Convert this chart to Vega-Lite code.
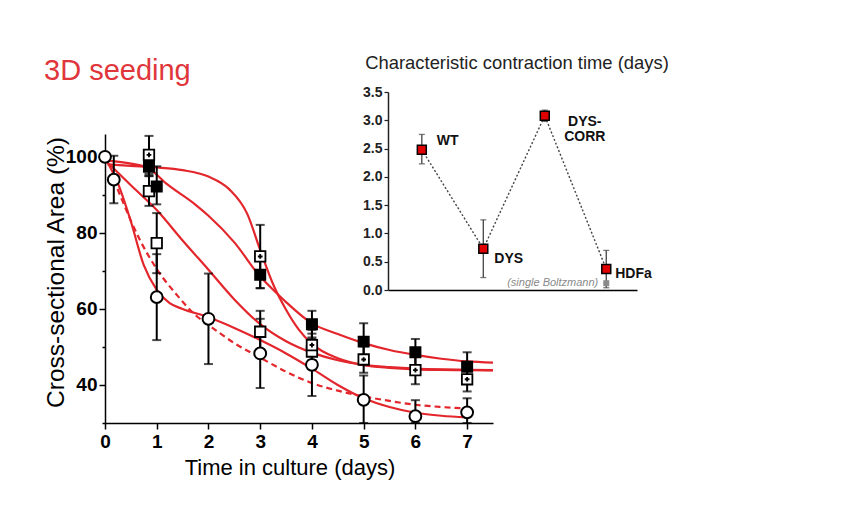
{
  "$schema": "https://vega.github.io/schema/vega-lite/v6.json",
  "width": 388,
  "height": 289,
  "autosize": "none",
  "padding": {"left": 105, "top": 134, "right": 348, "bottom": 82},
  "background": "white",
  "config": {"view": {"stroke": null}, "font": "Liberation Sans"},
  "title": {"text": "3D seeding", "anchor": "start", "frame": "group", "orient": "top", "color": "#e0363b", "fontSize": 29, "fontWeight": "normal", "font": "Liberation Sans", "baseline": "alphabetic", "offset": 0, "dx": -61, "dy": 56},
  "datasets": {
    "curves": [
      {"c": "A", "day": 0.05, "v": 98}, {"c": "A", "day": 0.5, "v": 97.6}, {"c": "A", "day": 1, "v": 97.2}, {"c": "A", "day": 1.5, "v": 96.5}, {"c": "A", "day": 2, "v": 94.8}, {"c": "A", "day": 2.4, "v": 91.5}, {"c": "A", "day": 2.75, "v": 85}, {"c": "A", "day": 3, "v": 75.5}, {"c": "A", "day": 3.25, "v": 66.5}, {"c": "A", "day": 3.5, "v": 59.8}, {"c": "A", "day": 3.75, "v": 54.5}, {"c": "A", "day": 4, "v": 50.8}, {"c": "A", "day": 4.5, "v": 47}, {"c": "A", "day": 5, "v": 45.2}, {"c": "A", "day": 5.5, "v": 44.5}, {"c": "A", "day": 6, "v": 44.1}, {"c": "A", "day": 6.5, "v": 43.95}, {"c": "A", "day": 7, "v": 43.9}, {"c": "A", "day": 7.5, "v": 43.8},
      {"c": "B", "day": 0.05, "v": 99}, {"c": "B", "day": 0.5, "v": 98.2}, {"c": "B", "day": 0.84, "v": 97}, {"c": "B", "day": 1.2, "v": 92.8}, {"c": "B", "day": 1.74, "v": 87.5}, {"c": "B", "day": 2, "v": 84.5}, {"c": "B", "day": 2.5, "v": 77.5}, {"c": "B", "day": 3, "v": 68.5}, {"c": "B", "day": 3.33, "v": 64}, {"c": "B", "day": 3.5, "v": 61.8}, {"c": "B", "day": 4, "v": 56.2}, {"c": "B", "day": 4.5, "v": 53.4}, {"c": "B", "day": 5, "v": 51}, {"c": "B", "day": 5.5, "v": 49.2}, {"c": "B", "day": 6, "v": 47.9}, {"c": "B", "day": 6.5, "v": 46.9}, {"c": "B", "day": 7, "v": 46.2}, {"c": "B", "day": 7.5, "v": 45.9},
      {"c": "C", "day": 0.05, "v": 98.5}, {"c": "C", "day": 0.5, "v": 92.5}, {"c": "C", "day": 1, "v": 86}, {"c": "C", "day": 1.5, "v": 78}, {"c": "C", "day": 2, "v": 70.3}, {"c": "C", "day": 2.5, "v": 62.5}, {"c": "C", "day": 3, "v": 56}, {"c": "C", "day": 3.5, "v": 51.5}, {"c": "C", "day": 4, "v": 48.5}, {"c": "C", "day": 4.5, "v": 46.5}, {"c": "C", "day": 5, "v": 45.3}, {"c": "C", "day": 5.5, "v": 44.7}, {"c": "C", "day": 6, "v": 44.3}, {"c": "C", "day": 6.5, "v": 44.1}, {"c": "C", "day": 7, "v": 44}, {"c": "C", "day": 7.5, "v": 43.9},
      {"c": "D", "day": 0.05, "v": 98.5}, {"c": "D", "day": 0.25, "v": 93}, {"c": "D", "day": 0.5, "v": 83}, {"c": "D", "day": 0.75, "v": 71.5}, {"c": "D", "day": 1, "v": 65}, {"c": "D", "day": 1.25, "v": 61.5}, {"c": "D", "day": 1.5, "v": 60}, {"c": "D", "day": 2, "v": 57.8}, {"c": "D", "day": 2.5, "v": 55}, {"c": "D", "day": 3, "v": 51.8}, {"c": "D", "day": 3.5, "v": 48.3}, {"c": "D", "day": 4, "v": 44.3}, {"c": "D", "day": 4.5, "v": 40}, {"c": "D", "day": 5, "v": 36.5}, {"c": "D", "day": 5.5, "v": 34.2}, {"c": "D", "day": 6, "v": 32.7}, {"c": "D", "day": 6.5, "v": 31.9}, {"c": "D", "day": 7, "v": 31.5},
      {"c": "E", "day": 0.17, "v": 94}, {"c": "E", "day": 0.35, "v": 88}, {"c": "E", "day": 0.68, "v": 78}, {"c": "E", "day": 1, "v": 70.5}, {"c": "E", "day": 1.4, "v": 63.5}, {"c": "E", "day": 1.78, "v": 58}, {"c": "E", "day": 2, "v": 55.8}, {"c": "E", "day": 2.5, "v": 51}, {"c": "E", "day": 3, "v": 47.2}, {"c": "E", "day": 3.5, "v": 43.5}, {"c": "E", "day": 4, "v": 40.5}, {"c": "E", "day": 4.5, "v": 38.5}, {"c": "E", "day": 5, "v": 37}, {"c": "E", "day": 5.5, "v": 35.8}, {"c": "E", "day": 6, "v": 34.8}, {"c": "E", "day": 6.5, "v": 34.2}, {"c": "E", "day": 7, "v": 33.8}
    ],
    "pts": [
      {"g": "HDFa", "day": 0, "v": 100, "lo": 100, "hi": 100},
      {"g": "HDFa", "day": 0.17, "v": 94, "lo": 87.8, "hi": 100.3},
      {"g": "HDFa", "day": 1, "v": 63.1, "lo": 51.8, "hi": 74.4},
      {"g": "HDFa", "day": 2, "v": 57.4, "lo": 45.5, "hi": 69.3},
      {"g": "HDFa", "day": 3, "v": 48.3, "lo": 39.2, "hi": 57.4},
      {"g": "HDFa", "day": 4, "v": 45.3, "lo": 37.1, "hi": 53.5},
      {"g": "HDFa", "day": 5, "v": 36.1, "lo": 30, "hi": 42.5},
      {"g": "HDFa", "day": 6, "v": 31.8, "lo": 30, "hi": 36},
      {"g": "HDFa", "day": 7, "v": 32.8, "lo": 30, "hi": 36.5},
      {"g": "WT", "day": 0.85, "v": 97.4, "lo": 95, "hi": 99.8},
      {"g": "WT", "day": 1, "v": 92.2, "lo": 87.5, "hi": 97.5},
      {"g": "WT", "day": 3, "v": 69, "lo": 65.4, "hi": 72.6},
      {"g": "WT", "day": 4, "v": 56, "lo": 52.5, "hi": 59.5},
      {"g": "WT", "day": 5, "v": 51.4, "lo": 46.6, "hi": 56.2},
      {"g": "WT", "day": 6, "v": 48.6, "lo": 45.1, "hi": 52.1},
      {"g": "WT", "day": 7, "v": 44.8, "lo": 41, "hi": 48.6},
      {"g": "DYS-CORR", "day": 0.85, "v": 100.5, "lo": 95.5, "hi": 105.5},
      {"g": "DYS-CORR", "day": 3, "v": 73.8, "lo": 65.5, "hi": 82.1},
      {"g": "DYS-CORR", "day": 4, "v": 50.5, "lo": 46.5, "hi": 54.5},
      {"g": "DYS-CORR", "day": 5, "v": 46.7, "lo": 43.2, "hi": 50.2},
      {"g": "DYS-CORR", "day": 6, "v": 43.9, "lo": 40.2, "hi": 47.6},
      {"g": "DYS-CORR", "day": 7, "v": 41.5, "lo": 38.3, "hi": 44.7},
      {"g": "DYS", "day": 0.85, "v": 91, "lo": 87.1, "hi": 94.9},
      {"g": "DYS", "day": 1, "v": 77.3, "lo": 69.4, "hi": 85.2},
      {"g": "DYS", "day": 3, "v": 54, "lo": 48.5, "hi": 59.5},
      {"g": "DYS", "day": 4, "v": 48.8, "lo": 45.5, "hi": 52.1}
    ],
    "tau": [
      {"group": "WT", "pos": 1, "tau": 2.48, "lo": 2.23, "hi": 2.75},
      {"group": "DYS", "pos": 2, "tau": 0.73, "lo": 0.22, "hi": 1.24},
      {"group": "DYS-CORR", "pos": 3, "tau": 3.08, "lo": 2.98, "hi": 3.18},
      {"group": "HDFa", "pos": 4, "tau": 0.37, "lo": 0.04, "hi": 0.7}
    ],
    "single": [
      {"group": "HDFa", "pos": 4, "tau": 0.12, "note": "(single  Boltzmann)"}
    ]
  },
  "layer": [
    {
      "layer": [
        {
          "data": {"name": "curves"},
          "transform": [{"filter": "datum.c !== 'E'"}],
          "mark": {"type": "line", "color": "#e3262c", "strokeWidth": 2.2, "interpolate": "monotone"},
          "encoding": {
            "x": {"field": "day", "type": "quantitative", "title": "Time in culture (days)", "scale": {"domain": [0, 7.5], "nice": false, "zero": false},
              "axis": {"values": [0, 0.5, 1, 1.5, 2, 2.5, 3, 3.5, 4, 4.5, 5, 5.5, 6, 6.5, 7, 7.5],
                "labelExpr": "datum.value % 1 === 0 ? datum.label : ''",
                "tickSize": {"condition": {"test": "datum.value % 1 !== 0", "value": 3}, "value": 6},
                "tickWidth": 1.5, "tickColor": "black", "domainColor": "black", "domainWidth": 1.5,
                "labelFontSize": 19, "labelFontWeight": "bold", "labelColor": "black", "labelPadding": 3, "labelFlush": false, "labelOverlap": false,
                "titleFontSize": 22, "titleFontWeight": "normal", "titleColor": "black", "titleX": 184.5, "titleY": 44, "titleBaseline": "middle", "titleAlign": "center", "grid": false}},
            "y": {"field": "v", "type": "quantitative", "title": "Cross-sectional Area (%)", "scale": {"domain": [30, 106], "nice": false, "zero": false},
              "axis": {"values": [30, 40, 50, 60, 70, 80, 90, 100],
                "labelExpr": "datum.value % 20 === 0 ? datum.label : ''",
                "tickSize": {"condition": {"test": "datum.value % 20 !== 0", "value": 3}, "value": 6},
                "tickWidth": 1.5, "tickColor": "black", "domainColor": "black", "domainWidth": 1.5,
                "labelFontSize": 19, "labelFontWeight": "bold", "labelColor": "black", "labelPadding": 2, "labelOverlap": false, "labelFlush": false,
                "titleFontSize": 24.5, "titleFontWeight": "normal", "titleColor": "black", "titleX": -49, "titleY": 138, "titleBaseline": "middle", "titleAlign": "center", "grid": false}},
            "detail": {"field": "c"}
          }
        },
        {
          "data": {"name": "curves"},
          "transform": [{"filter": "datum.c === 'E'"}],
          "mark": {"type": "line", "color": "#e3262c", "strokeWidth": 2.2, "strokeDash": [6, 4], "interpolate": "monotone"},
          "encoding": {"x": {"field": "day", "type": "quantitative", "title": "Time in culture (days)"}, "y": {"field": "v", "type": "quantitative", "title": "Cross-sectional Area (%)"}}
        },
        {
          "data": {"name": "pts"},
          "transform": [{"filter": "datum.hi > datum.lo"}],
          "mark": {"type": "errorbar", "ticks": true, "thickness": 2, "size": 9, "color": "black"},
          "encoding": {"x": {"field": "day", "type": "quantitative", "title": "Time in culture (days)"}, "y": {"field": "lo", "type": "quantitative", "title": "Cross-sectional Area (%)"}, "y2": {"field": "hi"}}
        },
        {
          "data": {"name": "pts"},
          "transform": [{"filter": "datum.g === 'HDFa'"}],
          "mark": {"type": "point", "shape": "circle", "filled": true, "fill": "white", "stroke": "black", "strokeWidth": 2, "size": 140, "opacity": 1},
          "encoding": {"x": {"field": "day", "type": "quantitative", "title": "Time in culture (days)"}, "y": {"field": "v", "type": "quantitative", "title": "Cross-sectional Area (%)"}}
        },
        {
          "data": {"name": "pts"},
          "transform": [{"filter": "datum.g === 'DYS'"}],
          "mark": {"type": "point", "shape": "square", "filled": true, "fill": "white", "stroke": "black", "strokeWidth": 1.8, "size": 110, "opacity": 1},
          "encoding": {"x": {"field": "day", "type": "quantitative", "title": "Time in culture (days)"}, "y": {"field": "v", "type": "quantitative", "title": "Cross-sectional Area (%)"}}
        },
        {
          "data": {"name": "pts"},
          "transform": [{"filter": "datum.g === 'DYS-CORR'"}],
          "mark": {"type": "point", "shape": "square", "filled": true, "fill": "white", "stroke": "black", "strokeWidth": 1.8, "size": 110, "opacity": 1},
          "encoding": {"x": {"field": "day", "type": "quantitative", "title": "Time in culture (days)"}, "y": {"field": "v", "type": "quantitative", "title": "Cross-sectional Area (%)"}}
        },
        {
          "data": {"name": "pts"},
          "transform": [{"filter": "datum.g === 'DYS-CORR'"}],
          "mark": {"type": "point", "shape": "cross", "filled": true, "fill": "black", "strokeWidth": 0, "size": 22, "opacity": 1},
          "encoding": {"x": {"field": "day", "type": "quantitative", "title": "Time in culture (days)"}, "y": {"field": "v", "type": "quantitative", "title": "Cross-sectional Area (%)"}}
        },
        {
          "data": {"name": "pts"},
          "transform": [{"filter": "datum.g === 'WT'"}],
          "mark": {"type": "point", "shape": "square", "filled": true, "fill": "black", "stroke": "black", "strokeWidth": 1.5, "size": 110, "opacity": 1},
          "encoding": {"x": {"field": "day", "type": "quantitative", "title": "Time in culture (days)"}, "y": {"field": "v", "type": "quantitative", "title": "Cross-sectional Area (%)"}}
        }
      ]
    },
    {
      "layer": [
        {
          "data": {"name": "tau"},
          "mark": {"type": "line", "color": "#444", "strokeWidth": 1.4, "strokeDash": [2, 2]},
          "encoding": {
            "x": {"field": "pos", "type": "quantitative", "title": "Characteristic contraction time (days)", "scale": {"domain": [0.45, 4.5], "range": [283, 532], "nice": false, "zero": false},
              "axis": {"orient": "bottom", "offset": -133, "ticks": false, "labels": false, "grid": false, "domainColor": "black", "domainWidth": 1.5,
                "titleX": 411.5, "titleY": -228, "titleAlign": "center", "titleBaseline": "middle",
                "titleFontSize": 18.4, "titleFontWeight": "normal", "titleColor": "#222"}},
            "y": {"field": "tau", "type": "quantitative", "title": null, "scale": {"domain": [0, 3.5], "range": [156, -42], "nice": false, "zero": false},
              "axis": {"orient": "left", "offset": -283, "grid": false,
                "values": [0, 0.25, 0.5, 0.75, 1, 1.25, 1.5, 1.75, 2, 2.25, 2.5, 2.75, 3, 3.25, 3.5],
                "labelExpr": "(datum.value * 2) % 1 === 0 ? format(datum.value, '.1f') : ''",
                "tickSize": {"condition": {"test": "(datum.value * 2) % 1 !== 0", "value": 2}, "value": 4},
                "tickWidth": 1.2, "tickColor": "#222", "domainColor": "#222", "domainWidth": 1.5,
                "labelFontSize": 14, "labelFontWeight": "bold", "labelColor": "#222", "labelPadding": 2, "labelOverlap": false, "labelFlush": false}},
            "order": {"field": "pos", "type": "quantitative"}
          }
        },
        {
          "data": {"name": "tau"},
          "mark": {"type": "errorbar", "ticks": true, "thickness": 1.3, "size": 6, "color": "#444"},
          "encoding": {"x": {"field": "pos", "type": "quantitative", "title": "Characteristic contraction time (days)"}, "y": {"field": "lo", "type": "quantitative", "title": null}, "y2": {"field": "hi"}}
        },
        {
          "data": {"name": "single"},
          "mark": {"type": "point", "shape": "square", "filled": true, "fill": "#8a8a8a", "strokeWidth": 0, "size": 36, "opacity": 1},
          "encoding": {"x": {"field": "pos", "type": "quantitative", "title": "Characteristic contraction time (days)"}, "y": {"field": "tau", "type": "quantitative", "title": null}}
        },
        {
          "data": {"name": "single"},
          "mark": {"type": "text", "align": "right", "baseline": "middle", "dx": -8, "fontSize": 11, "fontStyle": "italic", "color": "#8a8a8a"},
          "encoding": {"x": {"field": "pos", "type": "quantitative", "title": "Characteristic contraction time (days)"}, "y": {"field": "tau", "type": "quantitative", "title": null}, "text": {"field": "note"}}
        },
        {
          "data": {"name": "tau"},
          "mark": {"type": "point", "shape": "square", "filled": true, "fill": "#e00000", "stroke": "black", "strokeWidth": 1.5, "size": 80, "opacity": 1},
          "encoding": {"x": {"field": "pos", "type": "quantitative", "title": "Characteristic contraction time (days)"}, "y": {"field": "tau", "type": "quantitative", "title": null}}
        },
        {
          "data": {"name": "tau"},
          "transform": [{"filter": "datum.group === 'WT'"}],
          "mark": {"type": "text", "align": "left", "baseline": "middle", "dx": 15, "dy": -9, "fontSize": 14, "fontWeight": "bold", "color": "#111"},
          "encoding": {"x": {"field": "pos", "type": "quantitative", "title": "Characteristic contraction time (days)"}, "y": {"field": "tau", "type": "quantitative", "title": null}, "text": {"field": "group"}}
        },
        {
          "data": {"name": "tau"},
          "transform": [{"filter": "datum.group === 'DYS'"}],
          "mark": {"type": "text", "align": "left", "baseline": "middle", "dx": 11, "dy": 10, "fontSize": 14, "fontWeight": "bold", "color": "#111"},
          "encoding": {"x": {"field": "pos", "type": "quantitative", "title": "Characteristic contraction time (days)"}, "y": {"field": "tau", "type": "quantitative", "title": null}, "text": {"field": "group"}}
        },
        {
          "data": {"name": "tau"},
          "transform": [{"filter": "datum.group === 'DYS-CORR'"}],
          "mark": {"type": "text", "align": "center", "baseline": "middle", "dx": 40, "dy": 6, "lineHeight": 15, "fontSize": 14, "fontWeight": "bold", "color": "#111"},
          "encoding": {"x": {"field": "pos", "type": "quantitative", "title": "Characteristic contraction time (days)"}, "y": {"field": "tau", "type": "quantitative", "title": null}, "text": {"value": ["DYS-", "CORR"]}}
        },
        {
          "data": {"name": "tau"},
          "transform": [{"filter": "datum.group === 'HDFa'"}],
          "mark": {"type": "text", "align": "left", "baseline": "middle", "dx": 9, "dy": 5, "fontSize": 14, "fontWeight": "bold", "color": "#111"},
          "encoding": {"x": {"field": "pos", "type": "quantitative", "title": "Characteristic contraction time (days)"}, "y": {"field": "tau", "type": "quantitative", "title": null}, "text": {"field": "group"}}
        }
      ]
    }
  ],
  "resolve": {"scale": {"x": "independent", "y": "independent"}, "axis": {"x": "independent", "y": "independent"}}
}
